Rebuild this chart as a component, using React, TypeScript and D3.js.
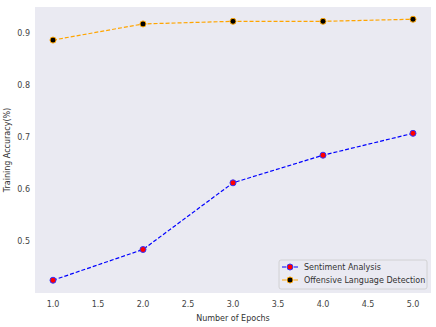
import React, { useEffect, useRef } from 'react';
import * as d3 from 'd3';

const epochs = [1, 2, 3, 4, 5];
const sentimentAcc = [0.426, 0.485, 0.613, 0.666, 0.708];
const offensiveAcc = [0.887, 0.918, 0.923, 0.923, 0.927];
const xTicks = [1.0, 1.5, 2.0, 2.5, 3.0, 3.5, 4.0, 4.5, 5.0];
const yTicks = [0.5, 0.6, 0.7, 0.8, 0.9];

const seriesList = [
  { name: 'Sentiment Analysis', values: sentimentAcc, line: '#0000ff', fill: '#ff0000', edge: '#3333ff' },
  { name: 'Offensive Language Detection', values: offensiveAcc, line: '#ffa500', fill: '#000000', edge: '#ffa500' },
];

const App = () => {
  const ref = useRef<SVGSVGElement>(null);

  useEffect(() => {
    const svg = d3.select(ref.current);
    svg.selectAll('*').remove();

    const width = 436;
    const height = 327;
    const margin = { top: 7, right: 5, bottom: 34, left: 35 };
    const w = width - margin.left - margin.right;
    const h = height - margin.top - margin.bottom;
    const font = 'DejaVu Sans, sans-serif';

    const x = d3.scaleLinear().domain([0.8, 5.2]).range([0, w]);
    const y = d3.scaleLinear().domain([0.4015, 0.9505]).range([h, 0]);

    const g = svg.append('g').attr('transform', `translate(${margin.left},${margin.top})`);

    g.append('rect').attr('width', w).attr('height', h).attr('fill', '#eaeaf2');

    // tick labels
    g.selectAll('.xt')
      .data(xTicks)
      .enter()
      .append('text')
      .attr('x', d => x(d))
      .attr('y', h + 14)
      .attr('text-anchor', 'middle')
      .attr('font-family', font)
      .attr('font-size', 8)
      .attr('fill', '#444')
      .text(d => d.toFixed(1));

    g.selectAll('.yt')
      .data(yTicks)
      .enter()
      .append('text')
      .attr('x', -5)
      .attr('y', d => y(d))
      .attr('dy', '0.35em')
      .attr('text-anchor', 'end')
      .attr('font-family', font)
      .attr('font-size', 8)
      .attr('fill', '#444')
      .text(d => d.toFixed(1));

    g.append('text')
      .attr('x', w / 2)
      .attr('y', h + 28)
      .attr('text-anchor', 'middle')
      .attr('font-family', font)
      .attr('font-size', 8)
      .attr('fill', '#333')
      .text('Number of Epochs');

    g.append('text')
      .attr('transform', `translate(${-25},${h / 2}) rotate(-90)`)
      .attr('text-anchor', 'middle')
      .attr('font-family', font)
      .attr('font-size', 8)
      .attr('fill', '#333')
      .text('Training Accuracy(%)');

    const line = d3
      .line<number>()
      .x((d, i) => x(epochs[i]))
      .y(d => y(d));

    seriesList.forEach(s => {
      g.append('path')
        .datum(s.values)
        .attr('d', line)
        .attr('fill', 'none')
        .attr('stroke', s.line)
        .attr('stroke-width', 1.2)
        .attr('stroke-dasharray', '4,2');
      g.selectAll(null)
        .data(s.values)
        .enter()
        .append('circle')
        .attr('cx', (d, i) => x(epochs[i]))
        .attr('cy', d => y(d))
        .attr('r', 3)
        .attr('fill', s.fill)
        .attr('stroke', s.edge)
        .attr('stroke-width', 1);
    });

    // legend
    const lx = w - 152;
    const ly = h - 33;
    const legend = g.append('g').attr('transform', `translate(${lx},${ly})`);
    legend
      .append('rect')
      .attr('width', 148)
      .attr('height', 29)
      .attr('rx', 2)
      .attr('fill', '#eaeaf2')
      .attr('stroke', '#cccccc')
      .attr('stroke-width', 0.8);
    seriesList.forEach((s, i) => {
      const ry = 7 + i * 13;
      legend
        .append('line')
        .attr('x1', 3)
        .attr('x2', 19)
        .attr('y1', ry)
        .attr('y2', ry)
        .attr('stroke', s.line)
        .attr('stroke-width', 1.2)
        .attr('stroke-dasharray', '4,2');
      legend
        .append('circle')
        .attr('cx', 11)
        .attr('cy', ry)
        .attr('r', 3)
        .attr('fill', s.fill)
        .attr('stroke', s.edge);
      legend
        .append('text')
        .attr('x', 25)
        .attr('y', ry)
        .attr('dy', '0.35em')
        .attr('font-family', font)
        .attr('font-size', 8)
        .attr('fill', '#333')
        .text(s.name);
    });
  }, []);

  return (
    <svg
      ref={ref}
      width={436}
      height={327}
      style={{ position: 'absolute', left: 0, top: 0, background: '#fff' }}
    />
  );
};

export default App;
